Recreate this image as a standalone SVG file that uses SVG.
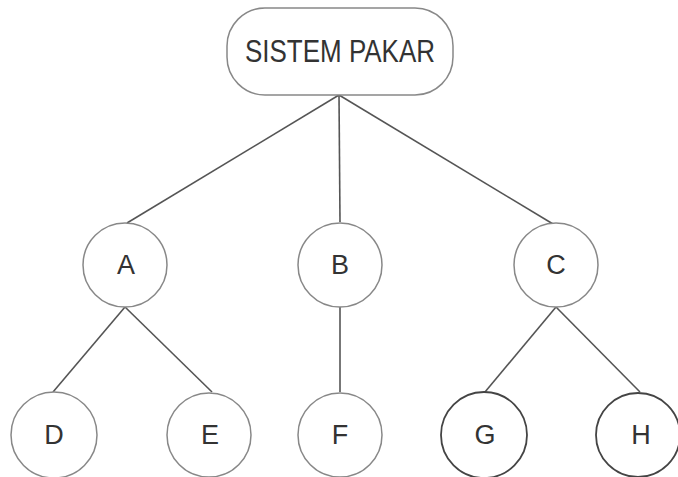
<svg xmlns="http://www.w3.org/2000/svg" width="678" height="477" viewBox="0 0 678 477">
<style>
.n{fill:#fff;stroke:#888;stroke-width:1.5}
.d{fill:#fff;stroke:#444;stroke-width:1.8}
.t{font-family:"Liberation Sans",Arial,sans-serif;font-size:27px;fill:#333;text-anchor:middle}
.c{stroke:#555;stroke-width:1.6;fill:none}
</style>
<rect width="678" height="477" fill="#fff"/>
<g id="connectors">
<line class="c" x1="339" y1="95" x2="127" y2="223"/>
<line class="c" x1="339" y1="95" x2="340" y2="222"/>
<line class="c" x1="339" y1="95" x2="553" y2="224"/>
<line class="c" x1="125" y1="307" x2="53" y2="392"/>
<line class="c" x1="125" y1="307" x2="212" y2="392"/>
<line class="c" x1="340" y1="307" x2="340" y2="392"/>
<line class="c" x1="556" y1="307" x2="485" y2="392"/>
<line class="c" x1="556" y1="307" x2="640" y2="392"/>
</g>
<g id="root">
<rect class="n" x="227" y="8" width="226" height="87" rx="38" ry="38"/>
<text class="t" x="340" y="62" font-size="31" textLength="190" lengthAdjust="spacingAndGlyphs" style="font-size:31px">SISTEM PAKAR</text>
</g>
<g id="A"><circle class="n" cx="125" cy="265" r="42"/><text class="t" x="126" y="274">A</text></g>
<g id="B"><circle class="n" cx="340" cy="265" r="42"/><text class="t" x="340" y="274">B</text></g>
<g id="C"><circle class="n" cx="556" cy="265" r="42"/><text class="t" x="556" y="274">C</text></g>
<g id="D"><circle class="n" cx="54" cy="435" r="43"/><text class="t" x="54" y="444">D</text></g>
<g id="E"><circle class="n" cx="209" cy="435" r="42"/><text class="t" x="210" y="444">E</text></g>
<g id="F"><circle class="n" cx="340" cy="435" r="42"/><text class="t" x="340" y="444">F</text></g>
<g id="G"><circle class="d" cx="484" cy="435" r="43"/><text class="t" x="485" y="444">G</text></g>
<g id="H"><circle class="d" cx="638" cy="435" r="42"/><text class="t" x="641" y="444">H</text></g>
</svg>
